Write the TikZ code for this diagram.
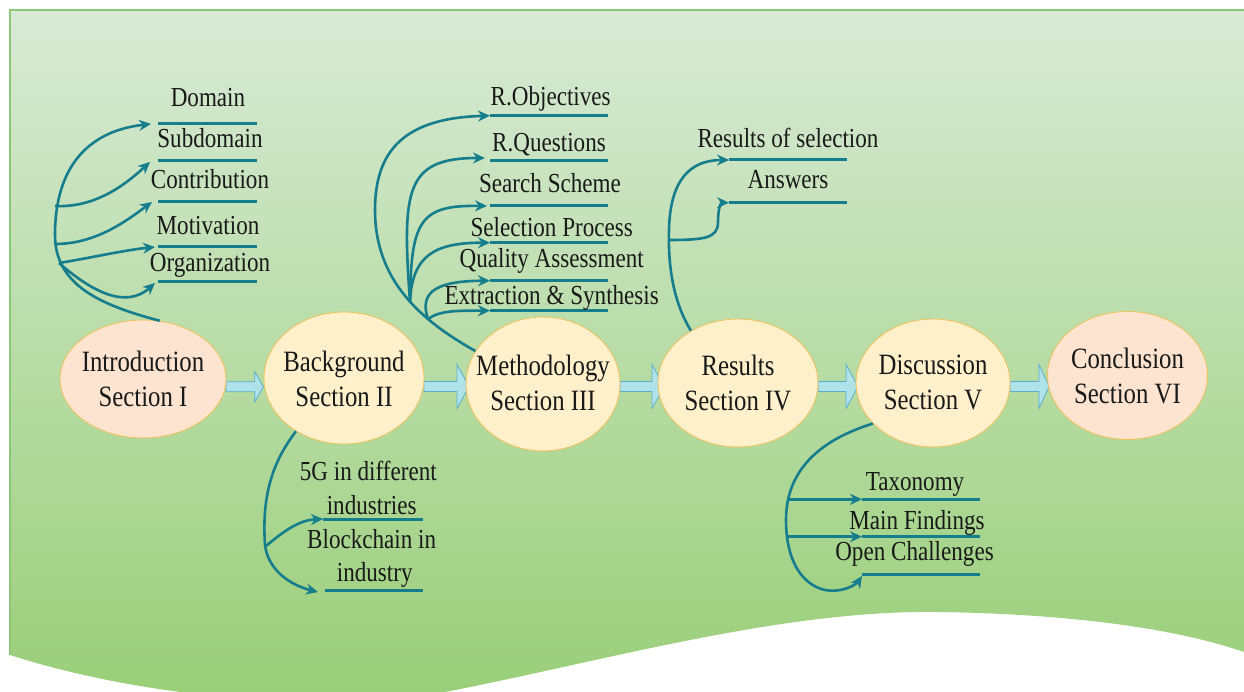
\documentclass[tikz,border=0pt]{standalone}
\usepackage{fontspec}
\setmainfont{Liberation Serif}[FakeStretch=0.84]
\usetikzlibrary{arrows.meta,shapes.geometric,calc}
\definecolor{tealc}{RGB}{22,125,140}
\definecolor{bgtop}{RGB}{216,234,214}
\definecolor{bgbot}{RGB}{152,206,118}
\definecolor{bgline}{RGB}{140,198,120}
\definecolor{peach}{RGB}{253,228,208}
\definecolor{cream}{RGB}{255,240,204}
\definecolor{ellline}{RGB}{238,196,96}
\definecolor{arrfill}{RGB}{176,226,234}
\definecolor{arrline}{RGB}{90,175,205}
\newcommand\lblfont{\fontsize{27.5}{33}\selectfont}
\newcommand\ellfont{\fontsize{29.5}{35}\selectfont}
% block arrow: start x, tip x, y, head half width, head length
\newcommand\blockarr[5]{\draw[barrow] (#1,{#3-5}) -- ({#2-#5},{#3-5}) -- ({#2-#5},{#3-#4}) -- (#2,#3)
  -- ({#2-#5},{#3+#4}) -- ({#2-#5},{#3+5}) -- (#1,{#3+5}) -- cycle;}
\begin{document}
\begin{tikzpicture}[x=1pt,y=-1pt,
  conn/.style={draw=tealc, line width=2.6, -{Stealth[length=12pt,width=11pt]}},
  bar/.style={draw=tealc, line width=3},
  ell/.style={ellipse, draw=ellline, line width=0.9, inner sep=0},
  elltext/.style={font=\ellfont, align=center, inner sep=0, text=black!90},
  lbl/.style={font=\lblfont, anchor=base, inner sep=0, text=black!90},
  barrow/.style={draw=arrline, fill=arrfill, line width=0.8, line join=miter}]
\useasboundingbox (0,0) rectangle (1244,692);
% background
\begin{scope}
\clip (0,0) rectangle (1244,692);
\shade[top color=bgtop, bottom color=bgbot] (10,10) -- (1244,10) -- (1244,652)
  .. controls (1180,630) and (1080,614) .. (936,612)
  .. controls (780,610) and (600,662) .. (445,692)
  .. controls (330,712) and (150,700) .. (10,655) -- cycle;
\draw[bgline, line width=1.5] (1244,10) -- (10,10) -- (10,655);
\end{scope}
% block arrows (between the section ellipses)
\blockarr{226}{263.3}{386.7}{15}{8.5}
\blockarr{424}{469}{386.5}{22}{12}
\blockarr{620}{664}{386.5}{22}{12}
\blockarr{818}{858}{386.5}{22}{12}
\blockarr{1010}{1049}{386.5}{22}{10}
% ellipses
\node[ell, fill=peach, minimum width=166, minimum height=118] (intro) at (143,379) {};
\node[ell, fill=cream, minimum width=160, minimum height=132] (back) at (344,378) {};
\node[ell, fill=cream, minimum width=154, minimum height=134] (meth) at (543,384) {};
\node[ell, fill=cream, minimum width=160, minimum height=128] (res) at (738,383) {};
\node[ell, fill=cream, minimum width=154, minimum height=128] (disc) at (933,383) {};
\node[ell, fill=peach, minimum width=160, minimum height=128] (conc) at (1127.5,375.5) {};
\node[elltext] at (143,379.2) {Introduction\\Section I};
\node[elltext] at (344,378.5) {Background\\Section II};
\node[elltext] at (543,382.5) {Methodology\\Section III};
\node[elltext] at (738,382.5) {Results\\Section IV};
\node[elltext] at (933,382.5) {Discussion\\Section V};
\node[elltext] at (1127.5,375.8) {Conclusion\\Section VI};
% ---------- Introduction cluster
\coordinate (t1) at (151,124);
\coordinate (t2) at (150,162);
\coordinate (t3) at (152,202);
\coordinate (t4) at (155,247);
\coordinate (t5) at (155,283);
\coordinate (j1) at (55,206);
\coordinate (j2) at (55,244);
\coordinate (j3) at (59,263);
\foreach \y [count=\i] in {123.3,161,201.7,246.7,281.7} {
  \coordinate (ib\i) at (158,\y);
  \draw[bar] (ib\i) -- ++(99,0);
}
\node[lbl] (l1) at (208,106.7) {Domain};
\node[lbl] (l2) at (210,147.3) {Subdomain};
\node[lbl] (l3) at (210,189) {Contribution};
\node[lbl] (l4) at (208,234.3) {Motivation};
\node[lbl] (l5) at (210,271.7) {Organization};
\draw[conn] (intro.74) .. controls (100,305) and (55,285) .. (55,235)
  .. controls (55,160) and (95,130) .. (t1);
\draw[conn] (j1) .. controls (95,208) and (125,185) .. (t2);
\draw[conn] (j2) .. controls (95,244) and (125,222) .. (t3);
\draw[conn] (j3) .. controls (90,258) and (125,250) .. (t4);
\draw[conn] (j3) .. controls (90,290) and (125,310) .. (t5);
% ---------- Methodology cluster
\foreach \y [count=\i] in {115.7,160.7,206,242.7,280.7,310.7} {
  \coordinate (mb\i) at (490,\y);
  \draw[bar] (mb\i) -- (608,\y);
}
\node[lbl] (m1l) at (550.7,106) {R.Objectives};
\node[lbl] (m2l) at (549,151.7) {R.Questions};
\node[lbl] (m3l) at (550,192.3) {Search Scheme};
\node[lbl] (m4l) at (551.7,236.7) {Selection Process};
\node[lbl] (m5l) at (551.7,267.3) {Quality Assessment};
\node[lbl] (m6l) at (551.7,304.3) {Extraction \& Synthesis};
\coordinate (jm1) at (410,302);
\coordinate (jm3) at (428,319);
\draw[conn] (meth.154) .. controls (420,320) and (375,280) .. (375,210)
  .. controls (375,150) and (405,118) .. (mb1);
\draw[conn] (jm1) .. controls (402,190) and (405,158) .. (485,158);
\draw[conn] (jm1) .. controls (411,220) and (420,205) .. (487,206);
\draw[conn] (jm1) .. controls (412,255) and (435,242.7) .. (mb4);
\draw[conn] (jm3) .. controls (418,290) and (440,281) .. (mb5);
\draw[conn] (jm3) .. controls (440,310) and (460,310.7) .. (mb6);
% ---------- Results cluster
\coordinate (rb1) at (729,160);
\coordinate (rb2) at (729,202.7);
\draw[bar] (rb1) -- (847,160);
\draw[bar] (rb2) -- (847,202.7);
\node[lbl] (r1l) at (788,147.3) {Results of selection};
\node[lbl] (r2l) at (788,189) {Answers};
\coordinate (jr) at (669,240);
\draw[conn] (res.132) .. controls (672,300) and (668,262) .. (669,230)
  .. controls (670,180) and (690,160) .. (rb1);
\draw[conn] (jr) .. controls (705,240) and (718,238) .. (718,222)
  .. controls (718,208) and (721,202.7) .. (rb2);
% ---------- Background cluster
\coordinate (gb1) at (323,519);
\coordinate (gb2) at (325,590);
\draw[bar] (gb1) -- (423,519);
\draw[bar] (gb2) -- (423,590);
\node[lbl] (g1l) at (368.3,480) {5G in different};
\node[lbl] (g1m) at (371.7,514.3) {industries};
\node[lbl] (g2l) at (371.7,548.3) {Blockchain in};
\node[lbl] (g2m) at (374.7,581.7) {industry};
\coordinate (jb) at (266,546);
\draw[conn] (back.228) .. controls (270,465) and (262,500) .. (265,545)
  .. controls (268,570) and (290,585) .. (318,592);
\draw[conn] (jb) .. controls (285,530) and (300,520) .. (gb1);
% ---------- Discussion cluster
\foreach \y [count=\i] in {499.3,536.7,574.3} {
  \coordinate (db\i) at (862,\y);
  \draw[bar] (db\i) -- (980,\y);
}
\node[lbl] (d1l) at (915,490) {Taxonomy};
\node[lbl] (d2l) at (917,529.3) {Main Findings};
\node[lbl] (d3l) at (914.5,560.7) {Open Challenges};
\coordinate (jd1) at (788,499.3);
\coordinate (jd2) at (786,536.7);
\draw[conn] (disc.214) .. controls (820,440) and (786,470) .. (786,520)
  .. controls (786,575) and (815,595) .. (840,590)
  .. controls (852,588) and (858,582) .. (862,576);
\draw[conn] (jd1) -- (db1);
\draw[conn] (jd2) -- (db2);
\end{tikzpicture}
\end{document}
